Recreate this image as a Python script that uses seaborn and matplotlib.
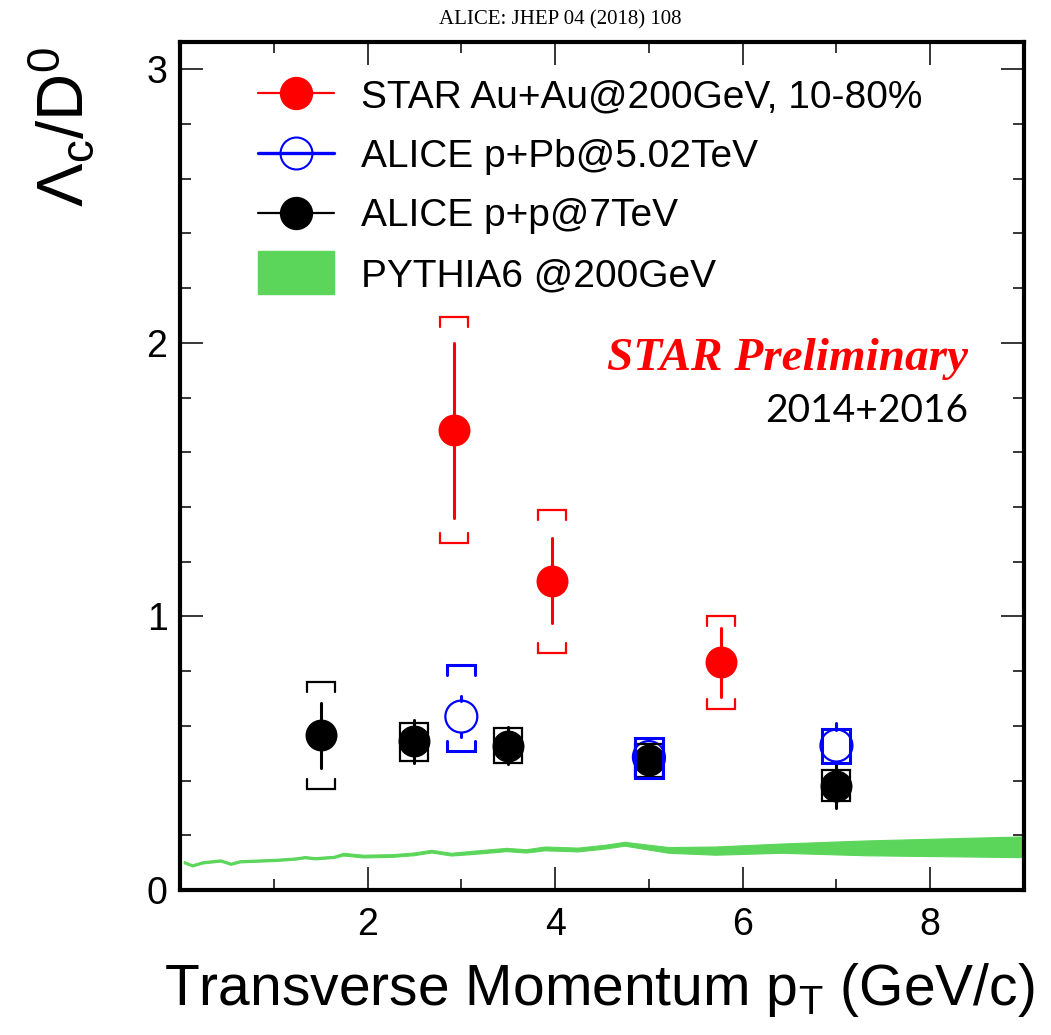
import numpy as np
import pandas as pd
import matplotlib
matplotlib.use("Agg")
import matplotlib.pyplot as plt
import seaborn as sns
import matplotlib.patches as mpatches
from matplotlib.lines import Line2D
from matplotlib.legend_handler import HandlerPatch
from matplotlib.ticker import MultipleLocator

# ---------------- data ----------------
star_pt = [2.92, 3.97, 5.77]
star_ratio = [1.68, 1.13, 0.832]
star_stat = [0.32, 0.155, 0.125]
star_sys_lo = [0.41, 0.262, 0.169]
star_sys_hi = [0.414, 0.26, 0.168]

ppb_pt = [3.0, 5.0, 7.0]
ppb_ratio = [0.634, 0.486, 0.528]
ppb_stat = [0.076, 0.055, 0.083]
ppb_sys_lo = [0.127, 0.078, 0.062]
ppb_sys_hi = [0.187, 0.068, 0.059]

pp_pt = [1.5, 2.5, 3.5, 5.0, 7.0]
pp_ratio = [0.565, 0.543, 0.528, 0.474, 0.382]
pp_stat = [0.119, 0.078, 0.068, 0.050, 0.082]
pp_sys_lo = [0.194, 0.070, 0.064, 0.060, 0.055]
pp_sys_hi = [0.194, 0.067, 0.066, 0.060, 0.058]

pythia_pt = [0.04, 0.13, 0.24, 0.43, 0.54, 0.64, 1.02, 1.23, 1.33, 1.44, 1.64, 1.74,
             1.95, 2.26, 2.49, 2.68, 2.89, 3.14, 3.48, 3.69, 3.89, 4.24, 4.52, 4.74,
             5.21, 5.71, 6.42, 7.30, 9.00]
pythia_lo = [0.098, 0.086, 0.097, 0.104, 0.092, 0.101, 0.106, 0.111, 0.116, 0.112, 0.117, 0.126,
             0.119, 0.121, 0.127, 0.137, 0.126, 0.132, 0.142, 0.137, 0.145, 0.141, 0.151, 0.162,
             0.136, 0.129, 0.136, 0.127, 0.120]
pythia_hi = [0.106, 0.094, 0.105, 0.112, 0.100, 0.109, 0.114, 0.119, 0.124, 0.120, 0.125, 0.136,
             0.129, 0.131, 0.137, 0.147, 0.136, 0.144, 0.154, 0.149, 0.159, 0.155, 0.165, 0.176,
             0.157, 0.159, 0.170, 0.181, 0.196]

labels = ["STAR Au+Au@200GeV, 10-80%", "ALICE p+Pb@5.02TeV", "ALICE p+p@7TeV", "PYTHIA6 @200GeV"]

# ---------------- style ----------------
sns.set_theme(style="ticks")
plt.rcParams["font.family"] = ["Liberation Sans", "DejaVu Sans"]
plt.rcParams["mathtext.fontset"] = "custom"
plt.rcParams["mathtext.rm"] = "Liberation Sans"
plt.rcParams["mathtext.it"] = "Liberation Sans:italic"
plt.rcParams["mathtext.bf"] = "Liberation Sans:bold"
for k in ["text.color", "axes.labelcolor", "xtick.color", "ytick.color", "axes.edgecolor"]:
    plt.rcParams[k] = "black"

RED, BLUE, BLACK, GREEN = "#ff0000", "#0000ff", "#000000", "#5bd65b"

W, H = 1051, 1035
fig = plt.figure(figsize=(W / 100, H / 100), dpi=100)
fig.patch.set_facecolor("white")
ax = fig.add_axes([180 / W, 1 - 890 / H, (1024 - 180) / W, (890 - 42) / H])
ax.set_facecolor("white")
ax.set_xlim(0, 9)
ax.set_ylim(0, 3.1)

# px -> data conversions
px_x = 9 / (1024 - 180)
px_y = 3.1 / (890 - 42)
half_w = 14 * px_x
leg = 10 * px_y
ms_pt = 23.0
r_data = 16 * px_y

# PYTHIA band
ax.fill_between(pythia_pt, pythia_lo, pythia_hi, color=GREEN, lw=0.8, ec=GREEN, zorder=1)


def draw_sys(xs, ys, lo, hi, color, lw):
    for x, y, sl, sh in zip(xs, ys, lo, hi):
        if (sl + sh) / 2 < 0.1:
            ax.add_patch(mpatches.Rectangle((x - half_w, y - sl), 2 * half_w, sl + sh,
                                            fill=False, ec=color, lw=lw, zorder=6))
        else:
            for yy, sgn in ((y + sh, -1), (y - sl, 1)):
                ax.plot([x - half_w, x - half_w, x + half_w, x + half_w],
                        [yy + sgn * leg, yy, yy, yy + sgn * leg],
                        color=color, lw=lw, solid_joinstyle="miter", zorder=6)


def draw_stat(xs, ys, stat, color, lw, gap=0.0):
    for x, y, s in zip(xs, ys, stat):
        if s > gap:
            ax.plot([x, x], [y + gap, y + s], color=color, lw=lw, zorder=3)
            ax.plot([x, x], [y - s, y - gap], color=color, lw=lw, zorder=3)


# ALICE p+Pb (open blue)
draw_stat(ppb_pt, ppb_ratio, ppb_stat, BLUE, 2.2, gap=r_data)
df_ppb = pd.DataFrame({"pt": ppb_pt, "ratio": ppb_ratio})
sns.scatterplot(data=df_ppb, x="pt", y="ratio", ax=ax, marker="o", s=ms_pt ** 2,
                facecolors="none", edgecolors=BLUE, linewidths=1.6, zorder=4, legend=False)

# ALICE p+p (black)
draw_stat(pp_pt, pp_ratio, pp_stat, BLACK, 2.2)
df_pp = pd.DataFrame({"pt": pp_pt, "ratio": pp_ratio})
sns.scatterplot(data=df_pp, x="pt", y="ratio", ax=ax, marker="o", s=ms_pt ** 2,
                color=BLACK, linewidth=0, zorder=5, legend=False)
draw_sys(pp_pt, pp_ratio, pp_sys_lo, pp_sys_hi, BLACK, 1.6)
draw_sys(ppb_pt, ppb_ratio, ppb_sys_lo, ppb_sys_hi, BLUE, 2.2)

# STAR (red)
draw_stat(star_pt, star_ratio, star_stat, RED, 2.2)
df_star = pd.DataFrame({"pt": star_pt, "ratio": star_ratio})
sns.scatterplot(data=df_star, x="pt", y="ratio", ax=ax, marker="o", s=ms_pt ** 2,
                color=RED, linewidth=0, zorder=5, legend=False)
draw_sys(star_pt, star_ratio, star_sys_lo, star_sys_hi, RED, 1.6)

# axes styling
ax.set_xlabel("")
ax.set_ylabel("")
ax.set_xticks([2, 4, 6, 8])
ax.xaxis.set_minor_locator(MultipleLocator(1))
ax.set_yticks([0, 1, 2, 3])
ax.yaxis.set_minor_locator(MultipleLocator(0.2))
for sp in ax.spines.values():
    sp.set_visible(True)
    sp.set_linewidth(3)
    sp.set_color("black")
ax.tick_params(which="both", direction="in", top=True, right=True, color="black",
               labelcolor="black")
ax.tick_params(which="major", length=16.5, width=1.1, labelsize=27)
ax.tick_params(which="minor", length=8, width=1.1)
ax.tick_params(axis="x", which="major", pad=12)
ax.tick_params(axis="y", which="major", pad=9)
ax.grid(False)

# legend
handles = [
    Line2D([], [], color=RED, lw=1.6, marker="o", ms=ms_pt, mec=RED, mfc=RED),
    Line2D([], [], color=BLUE, lw=2.4, marker="o", ms=ms_pt, mec=BLUE, mfc="none", mew=1.5),
    Line2D([], [], color=BLACK, lw=1.6, marker="o", ms=ms_pt, mec=BLACK, mfc=BLACK),
    mpatches.Patch(color=GREEN),
]


def tall_rect(legend, orig_handle, xdescent, ydescent, width, height, fontsize):
    return mpatches.Rectangle((-xdescent, -ydescent - 0.3 * height), width, 1.6 * height)


leg_obj = ax.legend(handles, labels, loc="upper left", bbox_to_anchor=(258 / W, 1 - 79 / H),
                    bbox_transform=fig.transFigure, frameon=False, fontsize=28,
                    handlelength=1.95, handletextpad=0.7, labelspacing=0.61,
                    borderpad=0, borderaxespad=0,
                    handler_map={mpatches.Patch: HandlerPatch(patch_func=tall_rect)})
for t in leg_obj.get_texts():
    t.set_color("black")

# texts
ax.text(968 / W, 1 - 359 / H, "STAR Preliminary", transform=fig.transFigure,
        ha="right", va="center", color=RED, fontsize=34,
        family=["Liberation Serif"], style="italic", weight="bold")
ax.text(968 / W, 1 - 411 / H, "2014+2016", transform=fig.transFigure,
        ha="right", va="center", color="black", fontsize=28, family=["Lato", "DejaVu Sans"])

fig.text(560 / W, 1 - 20 / H, "ALICE: JHEP 04 (2018) 108", ha="center", va="center",
         fontsize=15, family=["Liberation Serif"], color="black")

fig.text(1035 / W, 1 - 1005 / H, "Transverse Momentum p$_{\\rm T}$ (GeV/c)",
         ha="right", va="baseline", fontsize=41, color="black")
fig.text(62 / W, 1 - 47 / H, "Λ$_{\\rm c}$/D$^{\\rm 0}$", rotation=90,
         ha="center", va="top", fontsize=47, color="black")

fig.savefig("out.png", dpi=100)
